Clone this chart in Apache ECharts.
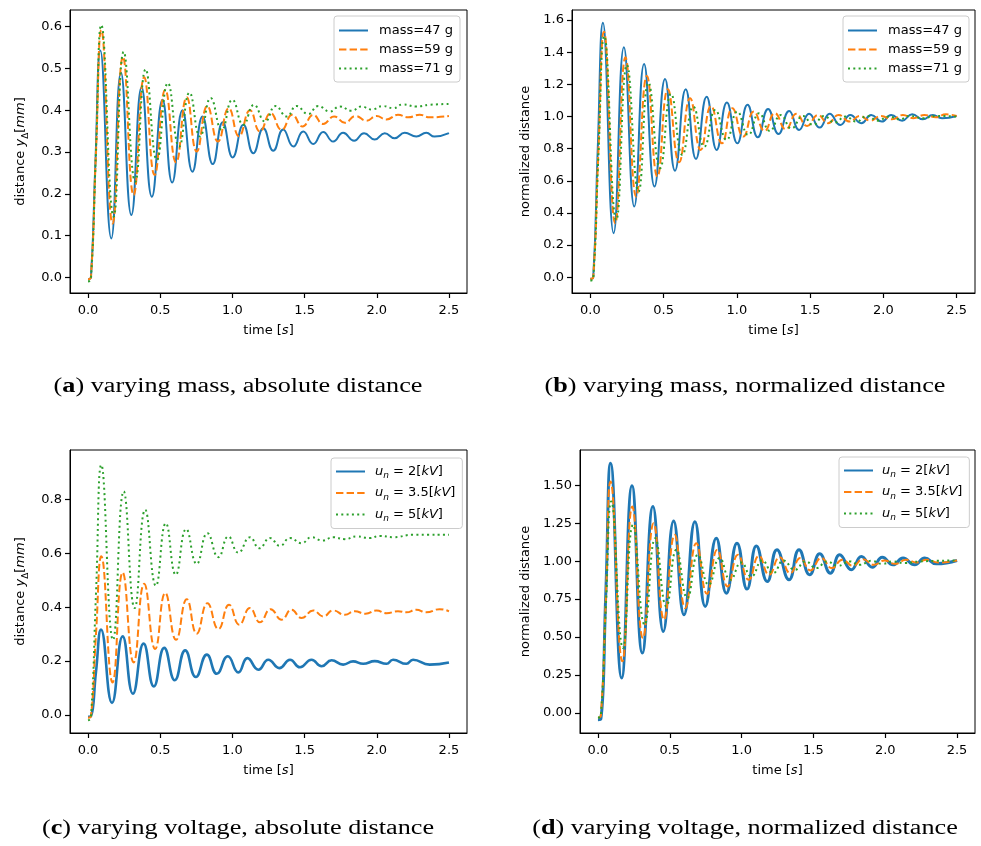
<!DOCTYPE html>
<html lang="en">

<head>
  <meta charset="UTF-8">
  <title>damped response</title>
  <script src="https://cdn.jsdelivr.net/npm/echarts@6/dist/echarts.min.js"></script>
  <style>
    html, body { margin: 0; padding: 0; background: #fff; }
  </style>
</head>

<body>

  <div id="main" style="width: 981px;height:846px;"></div>

  <script>
    // ticks
    var xTicks = [0, 0.5, 1, 1.5, 2, 2.5]
    var yTicksA = [0, 0.1, 0.2, 0.3, 0.4, 0.5, 0.6]
    var yTicksB = [0, 0.2, 0.4, 0.6, 0.8, 1.0, 1.2, 1.4, 1.6]
    var yTicksC = [0, 0.2, 0.4, 0.6, 0.8]
    var yTicksD = [0, 0.25, 0.5, 0.75, 1.0, 1.25, 1.5]

    // (a) varying mass, absolute distance  [t, y]
    var massAbs47 = [[0,-0.005],[0.02,0.0],[0.05,0.265],[0.085,0.543],[0.161,0.093],[0.228,0.49],[0.30,0.149],[0.371,0.455],[0.442,0.193],[0.516,0.425],[0.583,0.227],[0.654,0.40],[0.723,0.253],[0.793,0.385],[0.864,0.271],[0.933,0.371],[1.002,0.287],[1.076,0.365],[1.145,0.297],[1.214,0.357],[1.283,0.303],[1.352,0.354],[1.422,0.313],[1.491,0.349],[1.56,0.319],[1.629,0.348],[1.698,0.325],[1.767,0.346],[1.843,0.327],[1.912,0.345],[1.986,0.33],[2.055,0.345],[2.124,0.333],[2.194,0.346],[2.274,0.337],[2.343,0.346],[2.40,0.337],[2.5,0.345]]
    var massAbs59 = [[0,-0.005],[0.02,0],[0.055,0.3],[0.092,0.592],[0.17,0.129],[0.242,0.528],[0.316,0.197],[0.389,0.479],[0.461,0.245],[0.535,0.449],[0.61,0.275],[0.684,0.431],[0.753,0.301],[0.827,0.41],[0.90,0.325],[0.975,0.405],[1.046,0.338],[1.122,0.40],[1.191,0.349],[1.265,0.393],[1.341,0.353],[1.415,0.389],[1.486,0.361],[1.56,0.389],[1.629,0.367],[1.705,0.385],[1.779,0.37],[1.853,0.386],[1.929,0.375],[1.998,0.386],[2.067,0.378],[2.147,0.389],[2.217,0.383],[2.297,0.389],[2.366,0.383],[2.5,0.386]]
    var massAbs71 = [[0,-0.01],[0.02,-0.005],[0.055,0.3],[0.092,0.604],[0.177,0.145],[0.247,0.54],[0.327,0.229],[0.399,0.498],[0.477,0.281],[0.553,0.465],[0.631,0.313],[0.703,0.442],[0.776,0.337],[0.85,0.429],[0.926,0.353],[1.0,0.425],[1.076,0.365],[1.15,0.413],[1.226,0.373],[1.30,0.41],[1.376,0.385],[1.445,0.41],[1.525,0.391],[1.594,0.41],[1.675,0.397],[1.744,0.409],[1.825,0.399],[1.894,0.409],[1.963,0.402],[2.044,0.41],[2.113,0.405],[2.182,0.414],[2.274,0.409],[2.366,0.413],[2.5,0.415]]

    // (b) varying mass, normalized distance
    var massNorm47 = [[0,-0.01],[0.02,0],[0.05,0.78],[0.086,1.583],[0.159,0.274],[0.229,1.43],[0.30,0.44],[0.367,1.326],[0.438,0.564],[0.51,1.233],[0.578,0.663],[0.651,1.169],[0.721,0.736],[0.794,1.123],[0.862,0.792],[0.932,1.086],[1.003,0.833],[1.073,1.072],[1.143,0.87],[1.213,1.047],[1.284,0.891],[1.357,1.034],[1.425,0.916],[1.493,1.016],[1.565,0.931],[1.633,1.016],[1.706,0.947],[1.774,1.009],[1.849,0.958],[1.917,1.009],[1.99,0.968],[2.053,1.009],[2.128,0.974],[2.196,1.013],[2.269,0.982],[2.337,1.009],[2.40,0.989],[2.5,1.003]]
    var massNorm59 = [[0,-0.01],[0.02,0],[0.055,0.78],[0.093,1.527],[0.17,0.336],[0.24,1.368],[0.313,0.502],[0.386,1.252],[0.458,0.626],[0.529,1.169],[0.606,0.715],[0.681,1.113],[0.753,0.792],[0.824,1.065],[0.898,0.833],[0.969,1.051],[1.044,0.875],[1.116,1.03],[1.189,0.91],[1.259,1.02],[1.334,0.92],[1.407,1.016],[1.479,0.941],[1.554,1.009],[1.622,0.958],[1.695,1.009],[1.77,0.968],[1.838,1.003],[1.91,0.974],[1.985,1.003],[2.058,0.982],[2.133,1.009],[2.205,0.989],[2.28,1.009],[2.359,0.995],[2.427,1.013],[2.5,1.003]]
    var massNorm71 = [[0,-0.02],[0.02,-0.01],[0.055,0.75],[0.095,1.50],[0.177,0.356],[0.25,1.32],[0.329,0.533],[0.397,1.21],[0.476,0.678],[0.551,1.14],[0.628,0.761],[0.703,1.061],[0.778,0.812],[0.853,1.04],[0.93,0.854],[1.003,1.03],[1.078,0.885],[1.152,1.02],[1.225,0.91],[1.30,1.009],[1.372,0.926],[1.452,1.003],[1.52,0.947],[1.595,1.003],[1.667,0.962],[1.742,0.999],[1.815,0.968],[1.89,1.003],[1.962,0.974],[2.037,0.999],[2.11,0.982],[2.182,1.003],[2.269,0.989],[2.359,1.003],[2.5,0.999]]

    // (c) varying voltage, absolute distance
    var voltAbs2 = [[0,-0.007],[0.02,-0.005],[0.055,0.16],[0.09,0.317],[0.166,0.045],[0.24,0.292],[0.311,0.079],[0.385,0.265],[0.456,0.106],[0.528,0.249],[0.601,0.129],[0.673,0.24],[0.747,0.141],[0.823,0.224],[0.892,0.153],[0.968,0.218],[1.041,0.158],[1.104,0.211],[1.18,0.168],[1.249,0.205],[1.325,0.174],[1.399,0.205],[1.468,0.177],[1.548,0.205],[1.618,0.181],[1.687,0.203],[1.767,0.187],[1.836,0.199],[1.906,0.19],[1.986,0.20],[2.067,0.19],[2.113,0.205],[2.205,0.19],[2.251,0.205],[2.366,0.187],[2.5,0.195]]
    var voltAbs35 = [[0,-0.01],[0.02,-0.005],[0.055,0.3],[0.092,0.589],[0.17,0.121],[0.24,0.529],[0.316,0.195],[0.389,0.487],[0.465,0.245],[0.535,0.453],[0.61,0.279],[0.684,0.43],[0.753,0.302],[0.827,0.415],[0.903,0.319],[0.977,0.409],[1.048,0.335],[1.122,0.397],[1.191,0.344],[1.265,0.393],[1.341,0.354],[1.41,0.391],[1.479,0.36],[1.56,0.388],[1.629,0.366],[1.698,0.388],[1.779,0.372],[1.848,0.385],[1.922,0.376],[1.998,0.388],[2.067,0.378],[2.147,0.385],[2.205,0.381],[2.274,0.391],[2.343,0.381],[2.435,0.393],[2.5,0.385]]
    var voltAbs5 = [[0,-0.02],[0.02,-0.01],[0.055,0.45],[0.092,0.929],[0.173,0.279],[0.247,0.83],[0.323,0.397],[0.396,0.762],[0.47,0.48],[0.539,0.712],[0.608,0.521],[0.68,0.69],[0.753,0.561],[0.827,0.675],[0.903,0.586],[0.972,0.663],[1.041,0.603],[1.122,0.66],[1.187,0.619],[1.26,0.657],[1.329,0.628],[1.399,0.657],[1.479,0.638],[1.548,0.66],[1.624,0.648],[1.698,0.66],[1.779,0.653],[1.859,0.663],[1.952,0.657],[2.021,0.665],[2.113,0.66],[2.251,0.669],[2.5,0.669]]

    // (d) varying voltage, normalized distance
    var voltNorm2 = [[0,-0.044],[0.02,-0.04],[0.055,0.8],[0.088,1.645],[0.165,0.23],[0.237,1.496],[0.309,0.395],[0.383,1.36],[0.455,0.537],[0.527,1.265],[0.599,0.647],[0.675,1.26],[0.747,0.702],[0.824,1.151],[0.894,0.789],[0.968,1.118],[1.038,0.816],[1.103,1.10],[1.179,0.866],[1.246,1.075],[1.33,0.877],[1.40,1.075],[1.474,0.91],[1.544,1.048],[1.618,0.921],[1.683,1.042],[1.764,0.943],[1.834,1.031],[1.91,0.96],[1.98,1.026],[2.054,0.976],[2.124,1.02],[2.205,0.976],[2.275,1.02],[2.356,0.982],[2.5,1.004]]
    var voltNorm35 = [[0,-0.03],[0.02,-0.02],[0.055,0.75],[0.088,1.524],[0.17,0.34],[0.239,1.36],[0.313,0.493],[0.388,1.25],[0.46,0.614],[0.534,1.173],[0.608,0.691],[0.685,1.118],[0.759,0.785],[0.831,1.075],[0.903,0.833],[0.975,1.042],[1.049,0.877],[1.121,1.035],[1.191,0.91],[1.265,1.026],[1.339,0.921],[1.409,1.02],[1.479,0.939],[1.555,1.02],[1.63,0.954],[1.701,1.009],[1.776,0.969],[1.845,1.013],[1.92,0.976],[1.996,1.004],[2.066,0.982],[2.147,1.009],[2.217,0.991],[2.291,1.009],[2.368,0.991],[2.5,1.004]]
    var voltNorm5 = [[0,-0.03],[0.02,-0.02],[0.055,0.7],[0.093,1.393],[0.174,0.428],[0.244,1.239],[0.325,0.581],[0.399,1.151],[0.476,0.702],[0.546,1.075],[0.622,0.757],[0.696,1.042],[0.771,0.844],[0.847,1.02],[0.922,0.877],[0.998,0.991],[1.068,0.899],[1.144,1.004],[1.219,0.921],[1.293,1.004],[1.37,0.943],[1.446,0.998],[1.52,0.954],[1.595,0.998],[1.671,0.969],[1.753,0.998],[1.822,0.976],[1.903,1.002],[1.98,0.982],[2.054,0.998],[2.135,0.987],[2.24,0.998],[2.5,1.004]]

    var legendText = {
      a47: 'mass=47 g', a59: 'mass=59 g', a71: 'mass=71 g',
      b47: 'mass=47 g', b59: 'mass=59 g', b71: 'mass=71 g',
      c2: '{it|u}{sub|n}{it| }= 2[{it|kV}]', c35: '{it|u}{sub|n}{it| }= 3.5[{it|kV}]', c5: '{it|u}{sub|n}{it| }= 5[{it|kV}]',
      d2: '{it|u}{sub|n}{it| }= 2[{it|kV}]', d35: '{it|u}{sub|n}{it| }= 3.5[{it|kV}]', d5: '{it|u}{sub|n}{it| }= 5[{it|kV}]'
    }

    var font = 'DejaVu Sans'
    var serif = 'Liberation Serif'
    var blue = '#1f77b4', orange = '#ff7f0e', green = '#2ca02c'

    var rich = {
      it: { fontFamily: font, fontStyle: 'italic', fontSize: 13, color: '#000', lineHeight: 18 },
      sub: { fontFamily: font, fontStyle: 'italic', fontSize: 9, color: '#000', verticalAlign: 'bottom' },
      subu: { fontFamily: font, fontSize: 9, color: '#000', verticalAlign: 'bottom' }
    }

    var grids = [
      { left: 70, top: 10, width: 397, height: 283 },
      { left: 572, top: 10, width: 403, height: 283 },
      { left: 70, top: 450, width: 397, height: 283 },
      { left: 580, top: 450, width: 395, height: 283 }
    ].map(function (g) {
      return Object.assign({ show: true, borderColor: '#000', borderWidth: 1 }, g)
    })

    function xAxis(i) {
      return {
        type: 'value', gridIndex: i, min: -0.125, max: 2.625, z: 10,
        name: 'time [{it|s}]', nameLocation: 'middle', nameGap: 29,
        nameTextStyle: { fontFamily: font, fontSize: 13, color: '#000', rich: rich },
        axisLine: { show: true, onZero: false, lineStyle: { color: '#000', width: 1 } },
        splitLine: { show: false },
        axisTick: { show: true, inside: false, length: 5, customValues: xTicks, lineStyle: { color: '#000', width: 1.2 } },
        axisLabel: {
          customValues: xTicks, margin: 11, fontFamily: font, fontSize: 13, color: '#000',
          formatter: function (v) { return v.toFixed(1) }
        }
      }
    }

    function yAxis(i, min, max, ticks, digits, name, gap) {
      return {
        type: 'value', gridIndex: i, min: min, max: max, z: 10,
        name: name, nameLocation: 'middle', nameGap: gap, nameRotate: 90,
        nameTextStyle: { fontFamily: font, fontSize: 13, color: '#000', rich: rich },
        axisLine: { show: true, onZero: false, lineStyle: { color: '#000', width: 1 } },
        splitLine: { show: false },
        axisTick: { show: true, inside: false, length: 5, customValues: ticks, lineStyle: { color: '#000', width: 1.2 } },
        axisLabel: {
          customValues: ticks, margin: 8, fontFamily: font, fontSize: 13, color: '#000',
          formatter: function (v) { return v.toFixed(digits) }
        }
      }
    }

    function line(name, i, data, color, type, width) {
      return {
        name: name, type: 'line', xAxisIndex: i, yAxisIndex: i, data: data,
        showSymbol: false, symbol: 'none', smooth: 0.5, silent: true,
        lineStyle: { color: color, width: width || 2, type: type, cap: 'butt' },
        itemStyle: { color: color }
      }
    }

    var dash = [7.4, 3.2]
    var dot = [2, 3.3]

    function legend(names, left, top, textGap, itemGap, pad) {
      return {
        data: names, orient: 'vertical', left: left, top: top,
        itemWidth: 29, itemHeight: 14, itemGap: itemGap,
        padding: pad,
        backgroundColor: 'rgba(255,255,255,0.85)', borderColor: '#cccccc', borderWidth: 1, borderRadius: 3,
        selectedMode: false,
        itemStyle: { opacity: 0 },
        formatter: function (n) { return legendText[n] },
        textStyle: { fontFamily: font, fontSize: 13, color: '#000', padding: [0, 0, 0, textGap], rich: rich }
      }
    }

    function caption(x, y, letter, text) {
      return {
        type: 'text', x: x, y: y, scaleX: 1.31,
        style: {
          text: '(' + '{b|' + letter + '}) ' + text,
          fontFamily: serif, fontSize: 20, fill: '#000', align: 'center', verticalAlign: 'middle',
          rich: { b: { fontFamily: serif, fontSize: 20, fontWeight: 'bold', fill: '#000' } }
        }
      }
    }

    var myChart = echarts.init(document.getElementById('main'))
    myChart.setOption({
      animation: false,
      backgroundColor: '#fff',
      grid: grids,
      xAxis: [xAxis(0), xAxis(1), xAxis(2), xAxis(3)],
      yAxis: [
        yAxis(0, -0.0376, 0.64, yTicksA, 1, 'distance {it|y}{subu|Δ}[{it|mm}]', 40),
        yAxis(1, -0.098, 1.662, yTicksB, 1, 'normalized distance', 40),
        yAxis(2, -0.067, 0.984, yTicksC, 1, 'distance {it|y}{subu|Δ}[{it|mm}]', 40),
        yAxis(3, -0.132, 1.732, yTicksD, 2, 'normalized distance', 48)
      ],
      legend: [
        legend(['a47', 'a59', 'a71'], 334, 16, 6, 6, [8, 7, 7, 4]),
        legend(['b47', 'b59', 'b71'], 843, 16, 6, 6, [8, 7, 7, 4]),
        legend(['c2', 'c35', 'c5'], 331, 458, 5, 6, [7, 7, 5, 4]),
        legend(['d2', 'd35', 'd5'], 839, 457, 4, 6, [7, 7, 5, 4])
      ],
      series: [
        line('a47', 0, massAbs47, blue, 'solid'),
        line('a59', 0, massAbs59, orange, dash),
        line('a71', 0, massAbs71, green, dot),
        line('b47', 1, massNorm47, blue, 'solid'),
        line('b59', 1, massNorm59, orange, dash),
        line('b71', 1, massNorm71, green, dot),
        line('c2', 2, voltAbs2, blue, 'solid', 2.6),
        line('c35', 2, voltAbs35, orange, dash),
        line('c5', 2, voltAbs5, green, dot),
        line('d2', 3, voltNorm2, blue, 'solid', 3),
        line('d35', 3, voltNorm35, orange, dash),
        line('d5', 3, voltNorm5, green, dot)
      ],
      graphic: [
        caption(238, 387, 'a', 'varying mass, absolute distance'),
        caption(745, 387, 'b', 'varying mass, normalized distance'),
        caption(238, 829, 'c', 'varying voltage, absolute distance'),
        caption(745, 829, 'd', 'varying voltage, normalized distance')
      ]
    })
  </script>

</body>

</html>
